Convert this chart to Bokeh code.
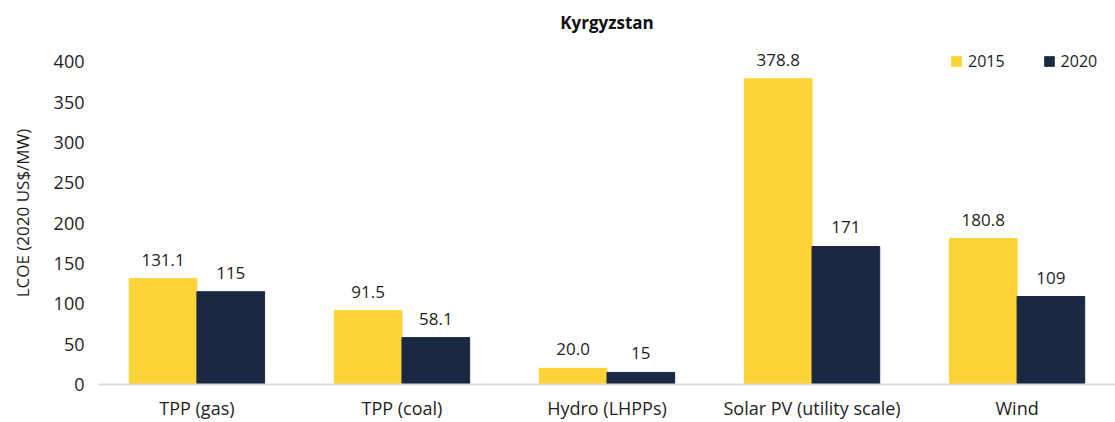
from bokeh.plotting import figure
from bokeh.models import FactorRange, Range1d, ColumnDataSource, Legend, LegendItem, Title
from bokeh.transform import dodge
from bokeh.core.properties import value
from bokeh.embed import file_html
from bokeh.resources import INLINE

categories = ["TPP (gas)", "TPP (coal)", "Hydro (LHPPs)", "Solar PV (utility scale)", "Wind"]
values_2015 = [131.1, 91.5, 20.0, 378.8, 180.8]
values_2020 = [115, 58.1, 15, 171, 109]
labels_2015 = ["131.1", "91.5", "20.0", "378.8", "180.8"]
labels_2020 = ["115", "58.1", "15", "171", "109"]
y_ticks = [0, 50, 100, 150, 200, 250, 300, 350, 400]

FONT = "Open Sans"
YELLOW = "#FDD335"
NAVY = "#1A2841"
TXT = "#1E1E1E"

src = ColumnDataSource(dict(cat=categories, v15=values_2015, v20=values_2020,
                            l15=labels_2015, l20=labels_2020))

xr = FactorRange(*categories, range_padding=-0.02, range_padding_units="absolute")

p = figure(width=1115, height=422, x_range=xr,
           y_range=Range1d(0, 425), output_backend="svg", toolbar_location=None,
           min_border_left=98, min_border_right=0, min_border_top=40, min_border_bottom=0)

p.title = Title(text="Kyrgyzstan", align="center", text_font=FONT, text_font_size="17px",
                text_font_style="bold", text_color="#111111", standoff=16)

r1 = p.vbar(x=dodge("cat", -0.165, range=p.x_range), top="v15", width=0.33, source=src,
            fill_color=YELLOW, line_color=YELLOW)
r2 = p.vbar(x=dodge("cat", 0.165, range=p.x_range), top="v20", width=0.33, source=src,
            fill_color=NAVY, line_color=NAVY)

p.text(x=dodge("cat", -0.165, range=p.x_range), y="v15", text="l15", source=src,
       text_align="center", text_baseline="bottom", y_offset=-13,
       text_font=value(FONT), text_font_size="17px", text_color=TXT)
p.text(x=dodge("cat", 0.165, range=p.x_range), y="v20", text="l20", source=src,
       text_align="center", text_baseline="bottom", y_offset=-13,
       text_font=value(FONT), text_font_size="17px", text_color=TXT)

p.xgrid.visible = False
p.ygrid.visible = False
p.outline_line_color = None

p.yaxis.ticker = y_ticks
p.yaxis.axis_line_color = None
p.yaxis.major_tick_line_color = None
p.yaxis.minor_tick_line_color = None
p.yaxis.major_tick_out = 0
p.yaxis.major_tick_in = 0
p.yaxis.minor_tick_out = 0
p.yaxis.major_label_text_font = FONT
p.yaxis.major_label_text_font_size = "18px"
p.yaxis.major_label_text_color = TXT
p.yaxis.major_label_standoff = 14
p.yaxis.axis_label = "LCOE (2020 US$/MW)"
p.yaxis.axis_label_text_font = FONT
p.yaxis.axis_label_text_font_size = "17px"
p.yaxis.axis_label_text_font_style = "normal"
p.yaxis.axis_label_text_color = TXT
p.yaxis.axis_label_standoff = 17

p.xaxis.axis_line_color = "#D9D9D9"
p.xaxis.axis_line_width = 2
p.xaxis.major_tick_line_color = None
p.xaxis.minor_tick_line_color = None
p.xaxis.major_tick_out = 0
p.xaxis.major_tick_in = 0
p.xaxis.axis_label_standoff = 0
p.xaxis.major_label_text_font = FONT
p.xaxis.major_label_text_font_size = "18px"
p.xaxis.major_label_text_color = TXT
p.xaxis.major_label_standoff = 11

legend = Legend(items=[LegendItem(label="2015", renderers=[r1]),
                       LegendItem(label="2020", renderers=[r2])],
                orientation="horizontal", location=(852, 312),
                label_text_font=FONT, label_text_font_size="16px", label_text_color=TXT,
                glyph_width=12, glyph_height=12, spacing=38, label_standoff=6,
                background_fill_alpha=0, border_line_color=None, padding=0, margin=0)
p.add_layout(legend, "center")

open("out.html", "w").write(file_html(p, INLINE))
